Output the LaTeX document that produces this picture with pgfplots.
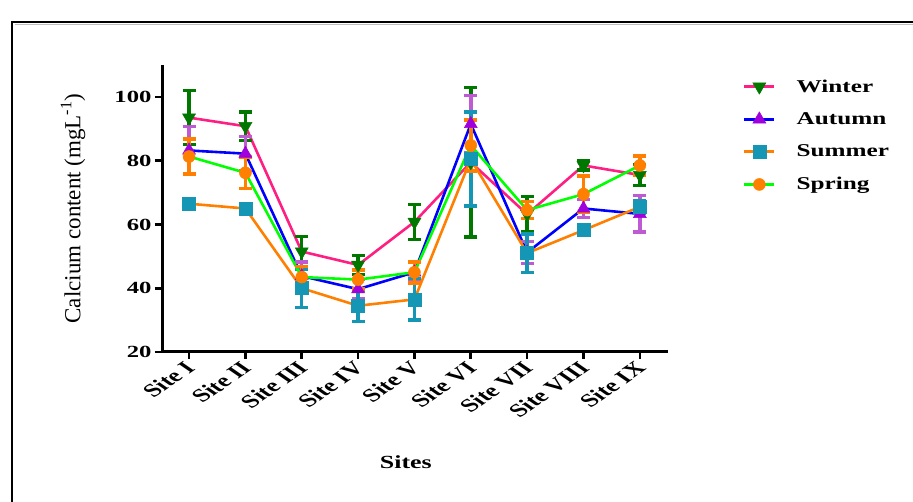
\documentclass[border=0pt]{standalone}
\usepackage{pgfplots}
\usepackage{pgfplotstable}
\pgfplotsset{compat=1.18}
\usepackage{fontspec}
\setmainfont{Liberation Serif}
\newfontfamily\wfont[FakeStretch=1.45]{Liberation Serif}
\newfontfamily\lfont[FakeStretch=1.4]{Liberation Serif}
\definecolor{wpink}{RGB}{255,30,130}
\definecolor{wgreen}{RGB}{0,120,0}
\definecolor{ablue}{RGB}{0,0,255}
\definecolor{apurple}{RGB}{160,0,220}
\definecolor{apurpleE}{RGB}{190,90,210}
\definecolor{sorange}{RGB}{255,128,0}
\definecolor{steal}{RGB}{20,150,180}
\definecolor{spgreen}{RGB}{0,255,0}

\pgfplotstableread{
x y e
0 93.5 8.5
1 90.8 4.5
2 51.5 4.7
3 47.3 3.0
4 60.8 5.5
5 79.5 23.5
6 63.2 5.5
7 78.5 1.5
8 75.5 3.3
}\winter
\pgfplotstableread{
x y e
0 83.2 7.5
1 82.2 5.3
2 43.8 4.5
3 39.7 3.0
4 45.0 3.0
5 91.5 9.0
6 51.2 3.5
7 65.0 2.8
8 63.3 5.7
}\autumn
\pgfplotstableread{
x y e
0 66.5 1.5
1 65.0 1.5
2 40.0 6.0
3 34.5 5.0
4 36.5 6.5
5 80.5 14.7
6 51.0 6.0
7 58.2 1.5
8 65.5 2.0
}\summer
\pgfplotstableread{
x y e
0 81.3 5.5
1 76.2 5.0
2 43.5 3.3
3 42.7 3.0
4 45.0 3.3
5 84.8 8.0
6 64.5 2.7
7 69.5 5.7
8 78.5 3.0
}\spring

\begin{document}
\begin{tikzpicture}[x=1pt,y=1pt]
\path[use as bounding box] (0,0) rectangle (913,502);
\clip (0,0) rectangle (913,502);
\draw[gray!50, line width=1pt] (14.5,477.5) -- (930,477.5);
\draw[black, line width=2.6pt] (12,-10) -- (12,480) -- (930,480);
\begin{axis}[
  at={(162pt,150pt)}, anchor=south west,
  scale only axis, width=506pt, height=287pt,
  xmin=-0.48, xmax=8.5, ymin=20, ymax=110,
  axis lines*=left,
  axis line style={-, line width=3pt, black},
  tick style={line width=2.6pt, black},
  major tick length=7pt, tick align=outside,
  ytick={20,40,60,80,100},
  xtick={0,...,8},
  xticklabels={Site I,Site II,Site III,Site IV,Site V,Site VI,Site VII,Site VIII,Site IX},
  /pgf/number format/assume math mode=true,
  tick label style={font=\wfont\bfseries\fontsize{17}{19}\selectfont},
  xticklabel style={font=\bfseries\fontsize{18.5}{20}\selectfont, xshift=-6pt, yshift=1pt, xscale=1.45, rotate=45, anchor=north east, inner sep=1.5pt},
  ylabel={Calcium content (mgL\textsuperscript{-1})},
  ylabel style={at={(axis description cs:-0.176,0.5)}, anchor=center, font=\fontsize{23}{26}\selectfont},
  xlabel={Sites},
  xlabel style={at={(axis description cs:0.482,-0.383)}, anchor=center, font=\lfont\bfseries\fontsize{18.5}{20}\selectfont},
  clip=false,
  legend style={at={(axis description cs:1.142,0.967)}, anchor=north west, draw=none, fill=none,
    font=\lfont\bfseries\fontsize{18}{20}\selectfont, row sep=13pt, column sep=18pt,
    nodes={inner sep=3pt}},
  legend cell align=left,
  legend image code/.code={\draw[mark repeat=2,mark phase=2,#1] plot coordinates {(0pt,0pt) (15pt,0pt) (30pt,0pt)};},
]
\addplot[color=wpink, line width=2.6pt, mark=triangle*,
  mark options={rotate=180, fill=wgreen, draw=wgreen, mark size=7.5pt, line width=0.5pt},
  error bars/.cd, y dir=both, y explicit, error mark=-,
  error bar style={color=wgreen, line width=3.5pt},
  error mark options={rotate=90, color=wgreen, line width=3.5pt, mark size=6.5pt}]
  table[x=x, y=y, y error=e]{\winter};
\addlegendentry{Winter}
\addplot[color=ablue, line width=2.6pt, mark=triangle*,
  mark options={fill=apurple, draw=apurple, mark size=7.5pt, line width=0.5pt},
  error bars/.cd, y dir=both, y explicit, error mark=-,
  error bar style={color=apurpleE, line width=3.5pt},
  error mark options={rotate=90, color=apurpleE, line width=3.5pt, mark size=6.5pt}]
  table[x=x, y=y, y error=e]{\autumn};
\addlegendentry{Autumn}
\addplot[color=sorange, line width=2.6pt, mark=square*,
  mark options={fill=steal, draw=steal, mark size=6.5pt, line width=0.5pt},
  error bars/.cd, y dir=both, y explicit, error mark=-,
  error bar style={color=steal, line width=3.5pt},
  error mark options={rotate=90, color=steal, line width=3.5pt, mark size=6.5pt}]
  table[x=x, y=y, y error=e]{\summer};
\addlegendentry{Summer}
\addplot[color=spgreen, line width=2.6pt, mark=*,
  mark options={fill=sorange, draw=sorange, mark size=6pt, line width=0.5pt},
  error bars/.cd, y dir=both, y explicit, error mark=-,
  error bar style={color=sorange, line width=3.5pt},
  error mark options={rotate=90, color=sorange, line width=3.5pt, mark size=6.5pt}]
  table[x=x, y=y, y error=e]{\spring};
\addlegendentry{Spring}
\end{axis}
\end{tikzpicture}
\end{document}
